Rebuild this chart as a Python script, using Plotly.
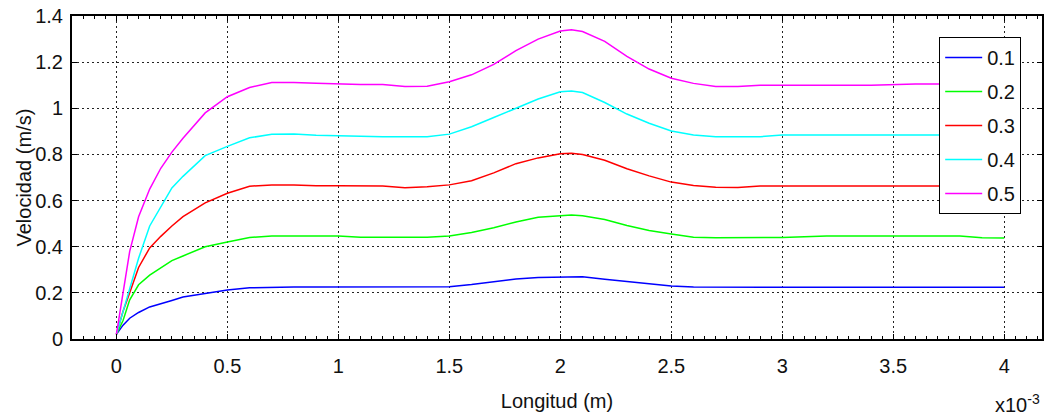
import plotly.graph_objects as go

# Longitud in units of 1e-3 m (axis shows x10^-3)
longitud = [0, 0.03, 0.06, 0.1, 0.15, 0.2, 0.25, 0.3, 0.4, 0.5, 0.6, 0.7, 0.8, 0.9,
            1.0, 1.1, 1.2, 1.3, 1.4, 1.5, 1.6, 1.7, 1.8, 1.9, 2.0, 2.05, 2.1, 2.2,
            2.3, 2.4, 2.5, 2.6, 2.7, 2.8, 2.9, 3.0, 3.2, 3.4, 3.6, 3.8, 3.9, 4.0]

v_01 = [0.02, 0.06, 0.09, 0.115, 0.139, 0.152, 0.167, 0.182, 0.198, 0.212, 0.222, 0.225, 0.225, 0.225,
        0.225, 0.225, 0.225, 0.225, 0.225, 0.227, 0.236, 0.248, 0.260, 0.267, 0.270, 0.270, 0.270, 0.259,
        0.249, 0.240, 0.230, 0.225, 0.224, 0.224, 0.224, 0.224, 0.224, 0.224, 0.224, 0.224, 0.224, 0.224]

v_02 = [0.02, 0.08, 0.17, 0.235, 0.277, 0.31, 0.34, 0.36, 0.40, 0.42, 0.44, 0.446, 0.447, 0.447,
        0.446, 0.441, 0.441, 0.441, 0.441, 0.446, 0.462, 0.482, 0.507, 0.528, 0.536, 0.537, 0.534, 0.518,
        0.492, 0.470, 0.455, 0.441, 0.439, 0.439, 0.439, 0.440, 0.446, 0.446, 0.446, 0.446, 0.439, 0.438]

v_03 = [0.02, 0.12, 0.20, 0.31, 0.395, 0.445, 0.49, 0.53, 0.59, 0.632, 0.662, 0.668, 0.668, 0.664,
        0.664, 0.663, 0.663, 0.656, 0.660, 0.668, 0.686, 0.720, 0.760, 0.785, 0.803, 0.805, 0.800, 0.775,
        0.738, 0.707, 0.680, 0.665, 0.658, 0.657, 0.663, 0.663, 0.663, 0.663, 0.663, 0.663, 0.663, 0.663]

v_04 = [0.02, 0.12, 0.22, 0.35, 0.49, 0.575, 0.655, 0.705, 0.795, 0.835, 0.872, 0.887, 0.889, 0.883,
        0.881, 0.877, 0.877, 0.877, 0.877, 0.888, 0.920, 0.960, 1.000, 1.040, 1.072, 1.075, 1.068, 1.025,
        0.975, 0.935, 0.902, 0.884, 0.877, 0.877, 0.877, 0.884, 0.884, 0.884, 0.884, 0.884, 0.884, 0.884]

v_05 = [0.02, 0.20, 0.38, 0.53, 0.65, 0.74, 0.81, 0.87, 0.98, 1.05, 1.09, 1.112, 1.112, 1.108,
        1.105, 1.103, 1.103, 1.094, 1.096, 1.115, 1.145, 1.190, 1.250, 1.300, 1.335, 1.340, 1.333, 1.290,
        1.225, 1.170, 1.130, 1.108, 1.094, 1.094, 1.100, 1.100, 1.103, 1.100, 1.105, 1.103, 1.105, 1.105]

series_names = ["0.1", "0.2", "0.3", "0.4", "0.5"]
series_values = [v_01, v_02, v_03, v_04, v_05]
series_colors = ["#0000ff", "#00ff00", "#ff0000", "#00ffff", "#ff00ff"]

x_ticks = [0, 0.5, 1, 1.5, 2, 2.5, 3, 3.5, 4]
x_ticktext = ["0", "0.5", "1", "1.5", "2", "2.5", "3", "3.5", "4"]
y_ticks = [0, 0.2, 0.4, 0.6, 0.8, 1.0, 1.2, 1.4]
y_ticktext = ["0", "0.2", "0.4", "0.6", "0.8", "1", "1.2", "1.4"]

FONT = "Liberation Sans, Arial, sans-serif"
TXT = "#111"

fig = go.Figure()
for name, vals, col in zip(series_names, series_values, series_colors):
    fig.add_trace(go.Scatter(x=longitud, y=vals, mode="lines", name=name,
                             line=dict(color=col, width=1.5), legendgroup=name))

axis_common = dict(
    showline=True, linecolor="black", linewidth=2, mirror="allticks",
    ticks="inside", ticklen=5, tickcolor="black", tickwidth=1,
    showgrid=True, gridcolor="#222", gridwidth=1, griddash="2px,3px",
    zeroline=False, tickfont=dict(family=FONT, size=20, color=TXT),
    automargin=False,
)

fig.update_xaxes(range=[-0.2, 4.17], tickvals=x_ticks, ticktext=x_ticktext,
                 ticklabelstandoff=8,
                 title=dict(text="Longitud (m)", font=dict(family=FONT, size=20, color=TXT), standoff=18),
                 minor=dict(ticks="inside", ticklen=3, dtick=0.05, tick0=0, tickcolor="black", showgrid=False),
                 **axis_common)
fig.update_yaxes(range=[0, 1.4], tickvals=y_ticks, ticktext=y_ticktext,
                 ticklabelstandoff=3, **axis_common)

# y-axis title placed as rotated text
fig.add_annotation(xref="paper", yref="paper", x=-0.0505, y=0.5, xanchor="center", yanchor="middle",
                   text="Velocidad (m/s)", textangle=-90, showarrow=False,
                   font=dict(family=FONT, size=20, color=TXT))

fig.add_annotation(xref="paper", yref="paper", x=1.0, y=0, yshift=-79, xanchor="right", yanchor="bottom",
                   text="x10<sup>-3</sup>", showarrow=False,
                   font=dict(family=FONT, size=20, color=TXT))

fig.update_layout(
    width=1045, height=419,
    margin=dict(l=72, r=3, t=16, b=80),
    paper_bgcolor="white", plot_bgcolor="white",
    font=dict(family=FONT, size=20, color=TXT),
    legend=dict(x=0.894, y=0.935, xanchor="left", yanchor="top",
                bgcolor="white", bordercolor="black", borderwidth=1,
                font=dict(family=FONT, size=20, color=TXT),
                itemwidth=37, tracegroupgap=5),
    showlegend=True,
)

fig.write_html("out.html", config={"displayModeBar": False},
               post_script="document.body.style.margin='0';document.body.style.padding='0';document.body.style.overflow='hidden';")
